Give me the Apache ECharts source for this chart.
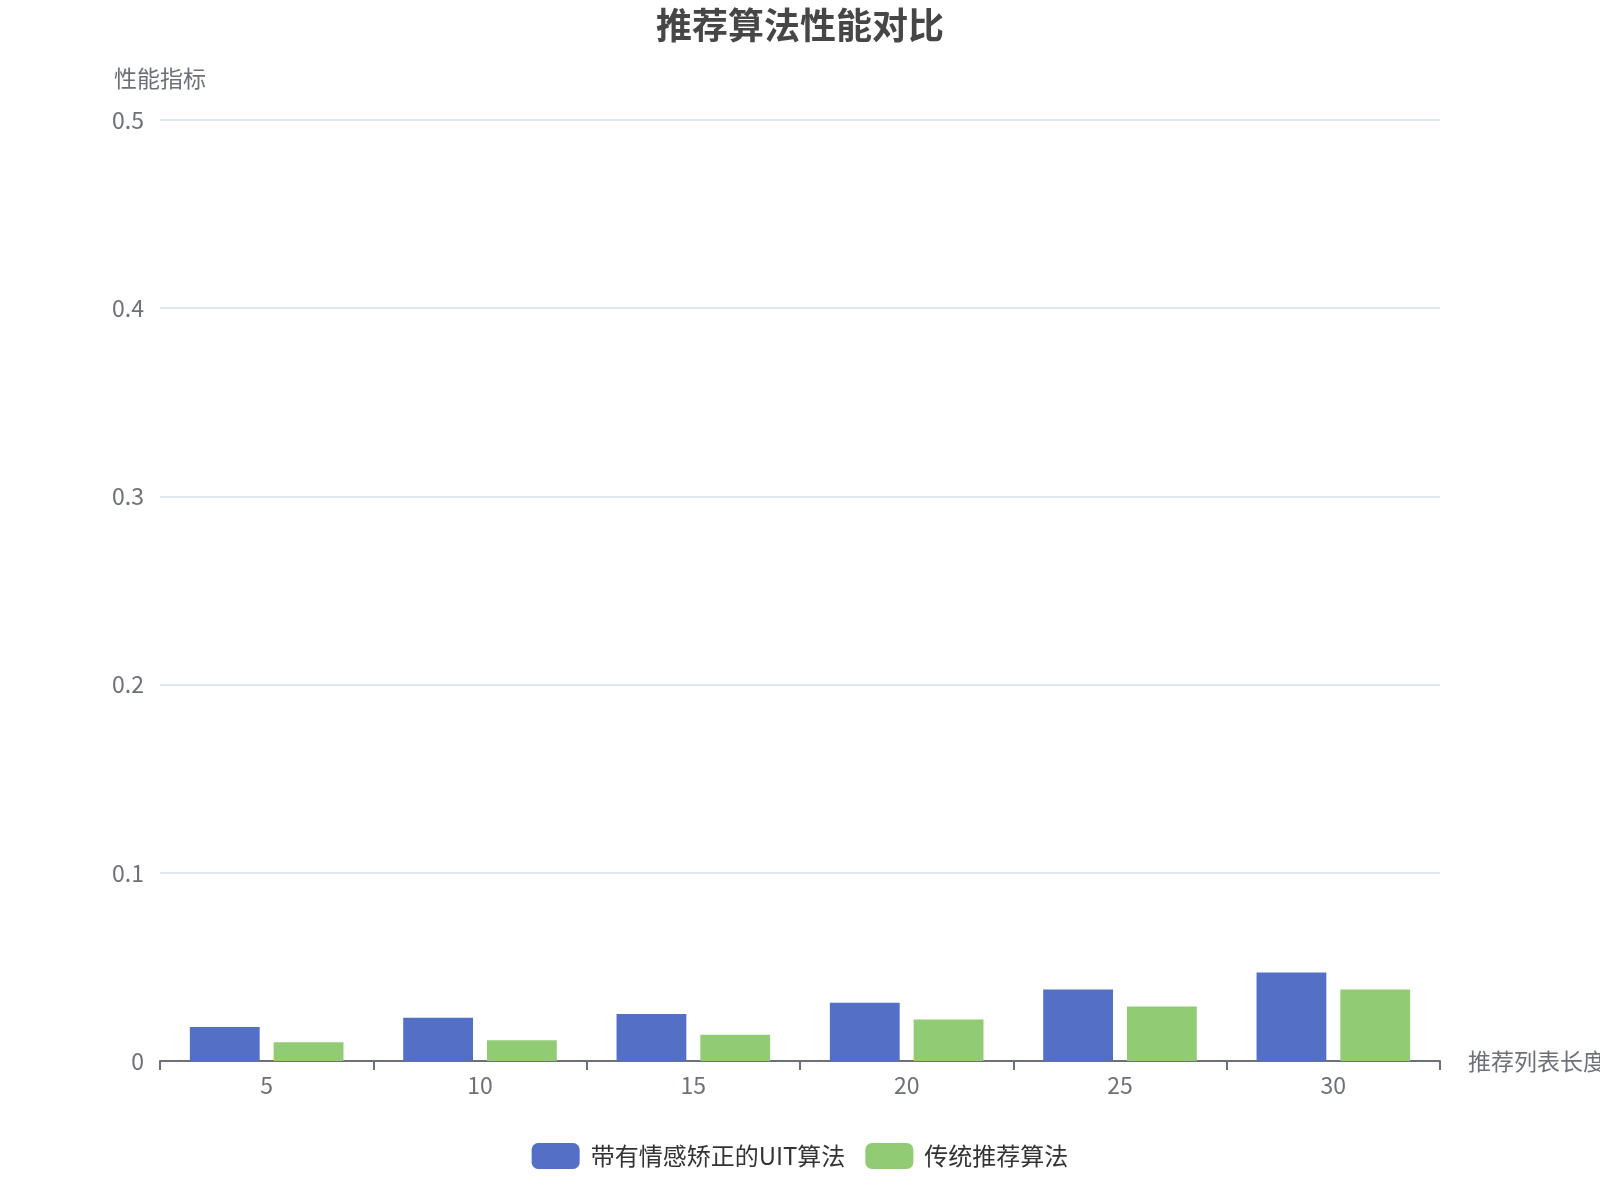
<!DOCTYPE html>
<html>
<head>
<meta charset="utf-8" />
<title>推荐算法性能对比</title>
<style type="text/css">
	html, body {margin:0;padding:0;background:#fff;}
	#chart {width:1600px;height:1200px;}
</style>
</head>
<body>
<div id="chart"></div>
<script src="https://cdn.jsdelivr.net/npm/echarts@6/dist/echarts.min.js"></script>
<script type="text/javascript">
	// 推荐列表长度
	const listLengths = ['5', '10', '15', '20', '25', '30'];
	// 带有情感矫正的UIT算法
	const uitValues = [0.018, 0.023, 0.025, 0.031, 0.038, 0.047];
	// 传统推荐算法
	const baseValues = [0.010, 0.011, 0.014, 0.022, 0.029, 0.038];
	const seriesNames = ['带有情感矫正的UIT算法', '传统推荐算法'];

	const font = '"Noto Sans CJK SC", "Noto Sans", sans-serif';
	const chart = echarts.init(document.getElementById('chart'));
	const opt = {
		textStyle: {fontFamily: font},
		title: {
			text: '推荐算法性能对比',
			left: 'center',
			top: 2,
			textStyle: {fontSize: 36, fontWeight: 'bold', color: '#464646', fontFamily: font}
		},
		legend: {
			bottom: 26,
			left: 'center',
			itemWidth: 48,
			itemHeight: 26,
			itemGap: 20,
			textStyle: {fontSize: 24, color: '#333', fontFamily: font, padding: [0, 0, 0, 6]},
			data: seriesNames
		},
		grid: {
			left: 160,
			right: 160,
			top: 120,
			bottom: 139,
			outerBoundsMode: 'none'
		},
		xAxis: {
			type: 'category',
			name: '推荐列表长度',
			nameGap: 28,
			nameTextStyle: {fontSize: 23, color: '#6e7079'},
			axisLine: {lineStyle: {color: '#6e7079', width: 2}},
			axisTick: {show: true, length: 9, lineStyle: {color: '#6e7079', width: 2}},
			axisLabel: {fontSize: 23, color: '#6e7079', margin: 13},
			data: listLengths
		},
		yAxis: {
			type: 'value',
			name: '性能指标',
			nameGap: 30,
			nameTextStyle: {fontSize: 23, color: '#6e7079'},
			min: 0,
			max: 0.5,
			interval: 0.1,
			axisLabel: {fontSize: 23, color: '#6e7079', margin: 16},
			splitLine: {lineStyle: {color: '#e0e6f1', width: 2}}
		},
		series: [{
			name: seriesNames[0],
			type: 'bar',
			barGap: '20%',
			barCategoryGap: '28%',
			itemStyle: {color: '#5470c6'},
			data: uitValues
		}, {
			name: seriesNames[1],
			type: 'bar',
			itemStyle: {color: '#91cc75'},
			data: baseValues
		}]
	};
	chart.setOption(opt);
</script>
</body>
</html>
